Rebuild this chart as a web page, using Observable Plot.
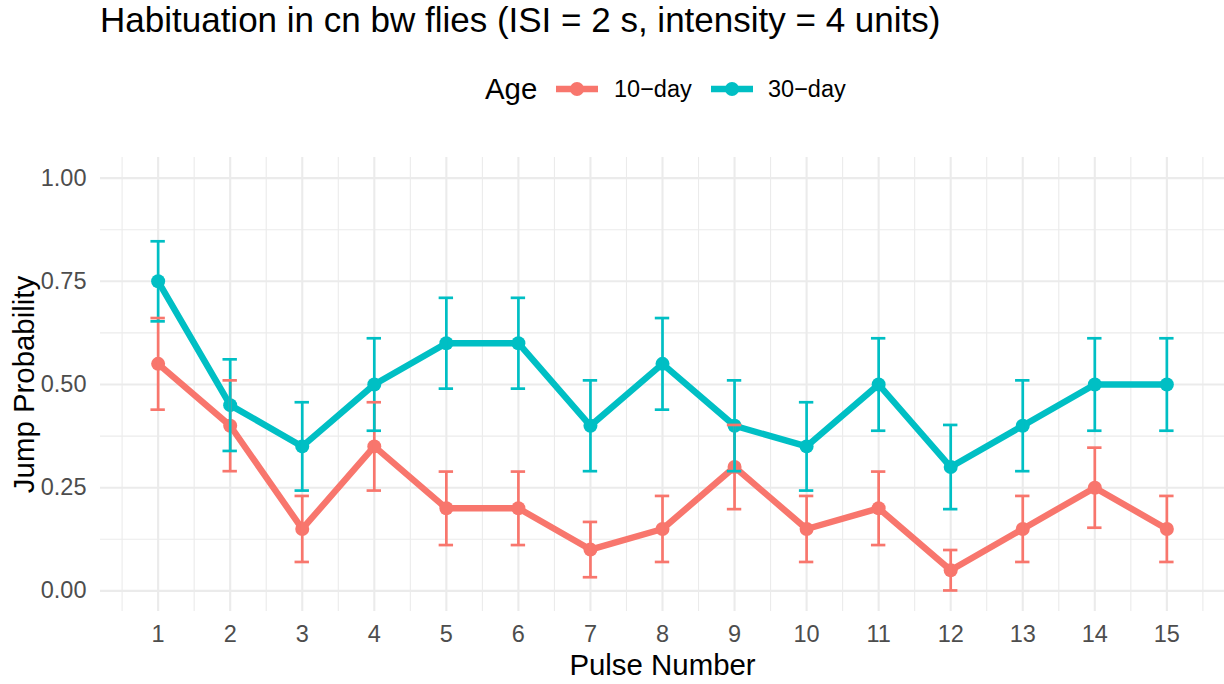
<!DOCTYPE html>
<html>
<head>
<meta charset="utf-8">
<script src="https://cdn.jsdelivr.net/npm/d3@7"></script>
<script src="https://cdn.jsdelivr.net/npm/@observablehq/plot@0.6"></script>
<style>
  html, body { margin: 0; padding: 0; background: #ffffff; }
  #wrap { position: relative; width: 1224px; height: 684px; font-family: "Liberation Sans", Arial, Helvetica, sans-serif; overflow: hidden; }
  #title { position: absolute; left: 100px; top: 0px; font-size: 35px; line-height: 40px; color: #000; white-space: nowrap; }
  .lg { position: absolute; top: 74px; height: 30px; line-height: 30px; white-space: nowrap; color: #000; }
  .lgtitle { font-size: 29.4px; }
  .lglab { font-size: 23.5px; }
  #chart { position: absolute; left: 0; top: 120px; }
</style>
</head>
<body>
<div id="wrap">
  <div id="title"></div>
  <div id="legend"></div>
  <div id="chart"></div>
</div>
<script>
// ---- data ----
const titleText = "Habituation in cn bw flies (ISI = 2 s, intensity = 4 units)";
const legendTitle = "Age";
const ages = ["10−day", "30−day"];
const ageColors = ["#F8766D", "#00BFC4"];
const pulses = [1, 2, 3, 4, 5, 6, 7, 8, 9, 10, 11, 12, 13, 14, 15];
const prob10 = [0.55, 0.40, 0.15, 0.35, 0.20, 0.20, 0.10, 0.15, 0.30, 0.15, 0.20, 0.05, 0.15, 0.25, 0.15];
const lo10   = [0.439, 0.290, 0.070, 0.243, 0.111, 0.111, 0.033, 0.070, 0.198, 0.070, 0.111, 0.001, 0.070, 0.153, 0.070];
const hi10   = [0.661, 0.510, 0.230, 0.457, 0.289, 0.289, 0.167, 0.230, 0.402, 0.230, 0.289, 0.099, 0.230, 0.347, 0.230];
const prob30 = [0.75, 0.45, 0.35, 0.50, 0.60, 0.60, 0.40, 0.55, 0.40, 0.35, 0.50, 0.30, 0.40, 0.50, 0.50];
const lo30   = [0.653, 0.339, 0.243, 0.388, 0.490, 0.490, 0.290, 0.439, 0.290, 0.243, 0.388, 0.198, 0.290, 0.388, 0.388];
const hi30   = [0.847, 0.561, 0.457, 0.612, 0.710, 0.710, 0.510, 0.661, 0.510, 0.457, 0.612, 0.402, 0.510, 0.612, 0.612];
const yTicks = [0, 0.25, 0.5, 0.75, 1];
const yTickLabels = ["0.00", "0.25", "0.50", "0.75", "1.00"];
const xMinorGrid = [0.5, 1.5, 2.5, 3.5, 4.5, 5.5, 6.5, 7.5, 8.5, 9.5, 10.5, 11.5, 12.5, 13.5, 14.5, 15.5];
const yMinorGrid = [0.125, 0.375, 0.625, 0.875];
const xLabel = "Pulse Number";
const yLabel = "Jump Probability";

// ---- build table ----
const rows = [];
pulses.forEach((p, i) => rows.push({pulse: p, age: ages[0], p: prob10[i], lo: lo10[i], hi: hi10[i]}));
pulses.forEach((p, i) => rows.push({pulse: p, age: ages[1], p: prob30[i], lo: lo30[i], hi: hi30[i]}));

// ---- title ----
document.getElementById("title").textContent = titleText;

// ---- legend ----
const legend = document.getElementById("legend");
function addText(txt, left, cls) {
  const d = document.createElement("div");
  d.className = "lg " + cls;
  d.style.left = left + "px";
  d.textContent = txt;
  legend.appendChild(d);
}
function addKey(color, left) {
  const ns = "http://www.w3.org/2000/svg";
  const s = document.createElementNS(ns, "svg");
  s.setAttribute("width", 44); s.setAttribute("height", 30);
  s.setAttribute("class", "lg");
  s.style.left = left + "px";
  const l = document.createElementNS(ns, "line");
  l.setAttribute("x1", 1); l.setAttribute("x2", 43); l.setAttribute("y1", 15); l.setAttribute("y2", 15);
  l.setAttribute("stroke", color); l.setAttribute("stroke-width", 6.4);
  const c = document.createElementNS(ns, "circle");
  c.setAttribute("cx", 22); c.setAttribute("cy", 15); c.setAttribute("r", 7);
  c.setAttribute("fill", color);
  s.appendChild(l); s.appendChild(c);
  legend.appendChild(s);
}
addText(legendTitle, 485, "lgtitle");
addKey(ageColors[0], 555);
addText(ages[0], 614, "lglab");
addKey(ageColors[1], 710);
addText(ages[1], 768, "lglab");

// ---- chart ----
const grid = "#EBEBEB";
const txt = "#4D4D4D";
const chart = Plot.plot({
  width: 1224,
  height: 564,
  marginTop: 37,
  marginBottom: 73,
  marginLeft: 100,
  marginRight: 0,
  style: {fontFamily: "'Liberation Sans', Arial, Helvetica, sans-serif", background: "#ffffff", overflow: "visible"},
  x: {domain: [0.2, 15.8], axis: null},
  y: {domain: [-0.05, 1.05], axis: null},
  color: {domain: ages, range: ageColors},
  marks: [
    Plot.ruleX(xMinorGrid, {stroke: grid, strokeWidth: 1.1}),
    Plot.ruleY(yMinorGrid, {stroke: grid, strokeWidth: 1.1}),
    Plot.ruleX(pulses, {stroke: grid, strokeWidth: 2.1}),
    Plot.ruleY(yTicks, {stroke: grid, strokeWidth: 2.1}),
    Plot.line(rows, {x: "pulse", y: "p", z: "age", stroke: "age", strokeWidth: 6.4, strokeLinejoin: "round"}),
    Plot.dot(rows, {x: "pulse", y: "p", fill: "age", r: 7, stroke: "none"}),
    Plot.ruleX(rows, {x: "pulse", y1: "lo", y2: "hi", stroke: "age", strokeWidth: 2.7}),
    Plot.ruleY(rows, {y: "lo", x1: d => d.pulse - 0.1, x2: d => d.pulse + 0.1, stroke: "age", strokeWidth: 2.7}),
    Plot.ruleY(rows, {y: "hi", x1: d => d.pulse - 0.1, x2: d => d.pulse + 0.1, stroke: "age", strokeWidth: 2.7}),
    Plot.axisX(pulses, {tickSize: 0, tickPadding: 14, fontSize: 23.5, fill: txt, label: null, tickFormat: d => String(d)}),
    Plot.axisY(yTicks, {tickSize: 0, tickPadding: 14, fontSize: 23.5, fill: txt, label: null, tickFormat: (d, i) => yTickLabels[i]}),
    Plot.text([xLabel], {frameAnchor: "bottom", text: d => d, dy: 54, lineAnchor: "middle", textAnchor: "middle", fontSize: 29.4, fill: "#000"}),
    Plot.text([yLabel], {frameAnchor: "left", text: d => d, rotate: -90, dx: -76, lineAnchor: "middle", textAnchor: "middle", fontSize: 29.4, fill: "#000"})
  ]
});
document.getElementById("chart").appendChild(chart);
</script>
</body>
</html>
